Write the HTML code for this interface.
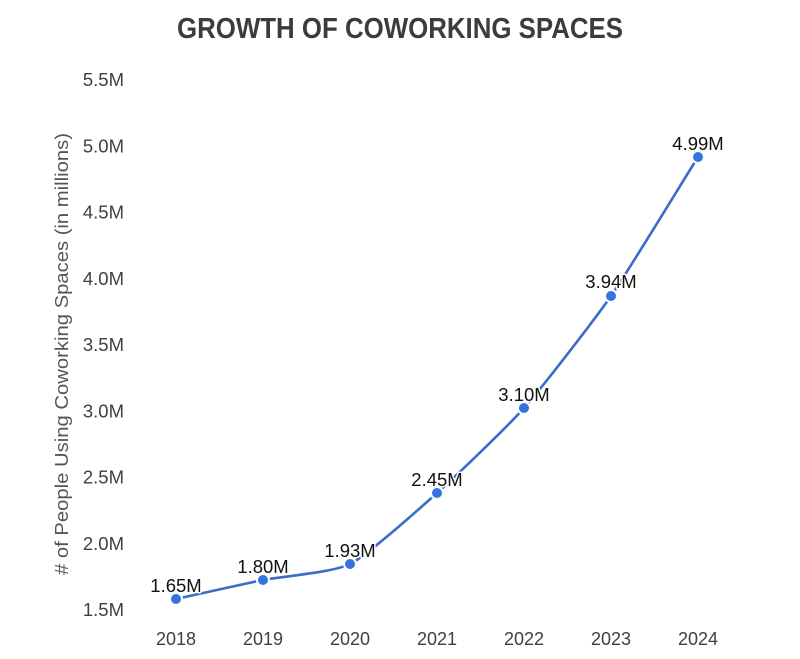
<!DOCTYPE html>
<html>
<head>
<meta charset="utf-8">
<style>
  html,body{margin:0;padding:0;background:#fff;}
  svg{display:block;}
  text{font-family:"Liberation Sans",Arial,sans-serif;}
</style>
</head>
<body>
<svg width="800" height="659" viewBox="0 0 800 659" xmlns="http://www.w3.org/2000/svg">
  <rect width="800" height="659" fill="#fff"/>
  <text x="400" y="38" text-anchor="middle" font-size="29" font-weight="bold" fill="#3c3c3c" textLength="446" lengthAdjust="spacingAndGlyphs">GROWTH OF COWORKING SPACES</text>

  <!-- y axis labels -->
  <g font-size="18.5" fill="#404040" text-anchor="end">
    <text x="124" y="86">5.5M</text>
    <text x="124" y="152.3">5.0M</text>
    <text x="124" y="218.5">4.5M</text>
    <text x="124" y="284.8">4.0M</text>
    <text x="124" y="351">3.5M</text>
    <text x="124" y="417.3">3.0M</text>
    <text x="124" y="483.5">2.5M</text>
    <text x="124" y="549.8">2.0M</text>
    <text x="124" y="616">1.5M</text>
  </g>

  <!-- axis title -->
  <text transform="translate(68,354) rotate(-90)" text-anchor="middle" font-size="18.5" fill="#555" textLength="442" lengthAdjust="spacingAndGlyphs"># of People Using Coworking Spaces (in millions)</text>

  <!-- x labels -->
  <g font-size="18" fill="#404040" text-anchor="middle">
    <text x="176" y="645">2018</text>
    <text x="263" y="645">2019</text>
    <text x="350" y="645">2020</text>
    <text x="437" y="645">2021</text>
    <text x="524" y="645">2022</text>
    <text x="611" y="645">2023</text>
    <text x="698" y="645">2024</text>
  </g>

  <!-- line -->
  <path fill="none" stroke="#3a6cc9" stroke-width="2.6" stroke-linecap="round"
    d="M176,599
       C193.4,595.2 245.6,583.5 263,580
       C280.4,576.5 332.6,572.7 350,564
       C367.4,555.3 419.6,508.6 437,493
       C454.4,477.4 506.6,427.7 524,408
       C541.4,388.3 593.6,321.1 611,296
       C628.4,270.9 680.6,184.8 698,157"/>

  <!-- data labels -->
  <g font-size="18.5" fill="#111" text-anchor="middle" stroke="#fff" stroke-width="3" paint-order="stroke" stroke-linejoin="round">
    <text x="176" y="592">1.65M</text>
    <text x="263" y="573">1.80M</text>
    <text x="350" y="557">1.93M</text>
    <text x="437" y="486">2.45M</text>
    <text x="524" y="401">3.10M</text>
    <text x="611" y="288">3.94M</text>
    <text x="698" y="150">4.99M</text>
  </g>

  <!-- points -->
  <g fill="#3474e0" stroke="#fff" stroke-width="2">
    <circle cx="176" cy="599" r="6"/>
    <circle cx="263" cy="580" r="6"/>
    <circle cx="350" cy="564" r="6"/>
    <circle cx="437" cy="493" r="6"/>
    <circle cx="524" cy="408" r="6"/>
    <circle cx="611" cy="296" r="6"/>
    <circle cx="698" cy="157" r="6"/>
  </g>
</svg>
</body>
</html>
